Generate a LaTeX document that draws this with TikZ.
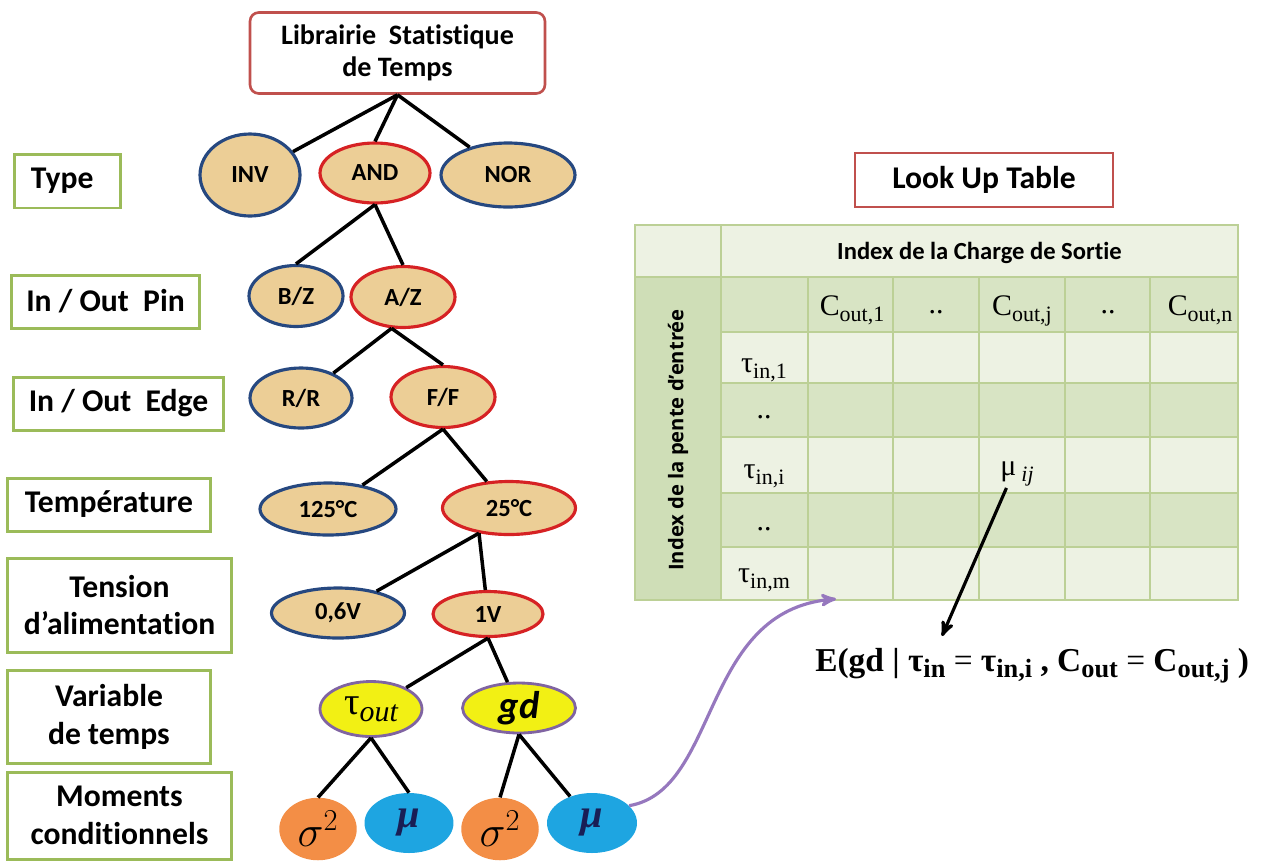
\documentclass[tikz,border=0pt]{standalone}
\usepackage{fontspec}
\setmainfont[Ligatures=NoCommon]{Carlito}
\newfontfamily\cambria{Liberation Serif}
\newfontfamily\opensans{Open Sans}
\usetikzlibrary{arrows,shapes.geometric}
\newcommand\fsz[2]{\fontsize{#1}{#2}\selectfont}
\newcommand\lowsub[2][12.5]{\raisebox{-3.5pt}{\fontsize{#1}{13}\selectfont #2}}
\definecolor{tanfill}{RGB}{236,206,150}
\definecolor{bluerim}{RGB}{38,72,128}
\definecolor{redrim}{RGB}{214,34,36}
\definecolor{greenrim}{RGB}{155,187,89}
\definecolor{titlerim}{RGB}{192,80,77}
\definecolor{yelfill}{RGB}{242,240,20}
\definecolor{purplerim}{RGB}{128,100,162}
\definecolor{orafill}{RGB}{243,142,70}
\definecolor{bluefill}{RGB}{30,165,225}
\definecolor{gridline}{RGB}{188,208,150}
\definecolor{celllight}{RGB}{237,242,227}
\definecolor{cellmid}{RGB}{216,228,196}
\definecolor{celldark}{RGB}{207,222,183}
\definecolor{arrowlilac}{RGB}{150,120,190}
\definecolor{munavy}{RGB}{25,30,85}
\begin{document}
\begin{tikzpicture}[x=0.02cm,y=-0.02cm,>=stealth',
  level box/.style={draw=greenrim,line width=1.7pt,align=center,inner sep=0pt,font=\fsz{18}{21.6}\bfseries},
  head box/.style={draw=titlerim,line width=1.5pt,fill=white,align=center,inner sep=0pt},
  tree node/.style={ellipse,fill=tanfill,line width=1.8pt,inner sep=0pt,font=\fsz{14}{16}\bfseries},
  off node/.style={tree node,draw=bluerim},
  on node/.style={tree node,draw=redrim},
  var node/.style={ellipse,fill=yelfill,draw=purplerim,line width=1.6pt,inner sep=0pt},
  sig node/.style={ellipse,fill=orafill,inner sep=0pt,minimum width=1.55cm,minimum height=1.25cm,font=\fsz{24}{24}},
  mu node/.style={ellipse,fill=bluefill,inner sep=0pt,minimum width=1.78cm,minimum height=1.2cm,text=munavy,font=\cambria\bfseries\itshape\fsz{23}{23}},
  cell/.style={anchor=base,inner sep=1pt,font=\cambria\fsz{17}{18}},
  tree line/.style={draw,line width=2pt}]
\useasboundingbox (0,0) rectangle (1267,860);

% levels on the left
\node[level box,minimum width=2.14cm,minimum height=1.08cm] (lvtype) at (67.5,181) {Type\hspace{6pt}};
\node[level box,minimum width=3.78cm,minimum height=1.06cm] (lvpin) at (105.5,301.5) {In / Out\ \ Pin};
\node[level box,minimum width=4.22cm,minimum height=1.06cm] (lvedge) at (118.5,403.5) {In / Out\ \ Edge};
\node[level box,minimum width=4.08cm,minimum height=1.06cm] (lvtemp) at (109,504.5) {Température};
\node[level box,minimum width=4.5cm,minimum height=1.88cm] (lvvdd) at (119.5,605) {Tension\\d’alimentation};
\node[level box,minimum width=4.08cm,minimum height=1.86cm] (lvvar) at (109,716.5) {Variable\\de temps};
\node[level box,minimum width=4.5cm,minimum height=1.74cm] (lvmom) at (119.5,815.5) {Moments\\conditionnels};

% tree
\node[head box,rounded corners=5pt,minimum width=5.9cm,minimum height=1.62cm,font=\fsz{16}{18.5}\bfseries] (lib) at (397.5,53) {Librairie\ \ Statistique\\de Temps};
\node[off node,minimum width=2cm,minimum height=1.64cm] (inv) at (250,175) {INV};
\node[on node,minimum width=2.2cm,minimum height=1.2cm] (and) at (375,173) {AND};
\node[off node,minimum width=2.68cm,minimum height=1.28cm] (nor) at (508,175) {NOR};
\node[off node,minimum width=1.88cm,minimum height=1.22cm] (bz) at (296,296) {B/Z};
\node[on node,minimum width=2.08cm,minimum height=1.22cm] (az) at (403,297) {A/Z};
\node[off node,minimum width=2.04cm,minimum height=1.2cm] (rr) at (301,398) {R/R};
\node[on node,minimum width=2.08cm,minimum height=1.22cm] (ff) at (443,397) {F/F};
\node[off node,minimum width=2.72cm,minimum height=1.04cm] (t125) at (328,509) {125°C};
\node[on node,minimum width=2.66cm,minimum height=1.06cm] (t25) at (509,508) {25°C};
\node[off node,minimum width=2.66cm,minimum height=1cm] (v06) at (338,613) {0,6V};
\node[on node,minimum width=2.2cm,minimum height=0.9cm] (v1) at (488,614) {1V};
\node[var node,minimum width=2.04cm,minimum height=1.1cm] (tout) at (371,709) {\cambria\fsz{22}{22}τ\raisebox{-4pt}{\fsz{17}{17}\itshape out}};
\node[var node,minimum width=2.26cm,minimum height=1cm] (gd) at (519,708) {\fsz{22}{22}\bfseries\itshape gd};
\node[sig node] (s1) at (318,829) {$\sigma^{2}$};
\node[mu node] (m1) at (409,823) {μ};
\node[sig node] (s2) at (500,829) {$\sigma^{2}$};
\node[mu node,minimum width=1.8cm] (m2) at (592,823) {μ};

\path[tree line]
  (lib.south) edge (inv) edge (and.north) edge (nor)
  (and.south) edge (bz.north) edge (az.north)
  (az.250) edge (rr) edge (ff.north)
  (ff.south) edge (t125) edge (t25)
  (t25.220) edge (v06) edge (v1)
  (v1.south) edge (tout) edge (gd)
  (tout.south) edge (s1.north) edge (m1.north)
  (gd.south) edge (s2.north) edge (m2);

% look up table
\node[head box,minimum width=5.16cm,minimum height=1.08cm,font=\fsz{18}{20}\bfseries] (lut) at (984,180) {Look Up Table};
\fill[celllight] (635,225) rectangle (1238,277);
\fill[celldark] (635,277) rectangle (721,600);
\foreach \ya/\yb/\shade in {277/332/cellmid,332/383/celllight,383/437/cellmid,437/493/celllight,493/547/cellmid,547/600/celllight}
  \fill[\shade] (721,\ya) rectangle (1238,\yb);
\draw[gridline,line width=1pt] (635,225) rectangle (1238,600) (721,225) -- (721,600) (635,277) -- (721,277);
\foreach \y in {277,332,383,437,493,547}
  \draw[gridline,line width=1pt] (721,\y) -- (1238,\y);
\foreach \x in {808,893,979,1065,1150}
  \draw[gridline,line width=1pt] (\x,277) -- (\x,600);

\node[font=\fsz{14}{16}\bfseries] (hd) at (979.5,253) {Index de la Charge de Sortie};
\node[rotate=90,font=\opensans\bfseries\fsz{11.5}{13}] (sd) at (678,440) {Index de la pente d’entrée};
\node[cell] (c1) at (852,315) {C\lowsub{out,1}};
\node[cell] (cd1) at (936,313) {..};
\node[cell] (cj) at (1022,315) {C\lowsub{out,j}};
\node[cell] (cd2) at (1108,313) {..};
\node[cell] (cn) at (1200,315) {C\lowsub{out,n}};
\node[cell] (t1) at (764,372) {τ\lowsub{in,1}};
\node[cell] (td1) at (764,418) {..};
\node[cell] (ti) at (764,478) {τ\lowsub{in,i}};
\node[cell] (td2) at (764,530) {..};
\node[cell] (tm) at (764,582) {τ\lowsub{in,m}};
\node[cell] (muij) at (1017,475) {μ\,\lowsub{\itshape ij}};

\node[anchor=base west,inner sep=0pt,font=\cambria\bfseries\fsz{19}{22}] (expr) at (815,671) {E(gd | τ\lowsub[15]{in} {\mdseries =} τ\lowsub[15]{in,i} , C\lowsub[15]{out} {\mdseries =} C\lowsub[15]{out,j} )};

\coordinate (tipE) at (942,636);
\coordinate (lutin) at (836,599);
\draw[->,line width=1.8pt] ([xshift=-6pt]muij.south) -- (tipE);
\draw[->,arrowlilac,line width=1.8pt] (m2.25) .. controls (720,790) and (700,610) .. (lutin);
\end{tikzpicture}
\end{document}
